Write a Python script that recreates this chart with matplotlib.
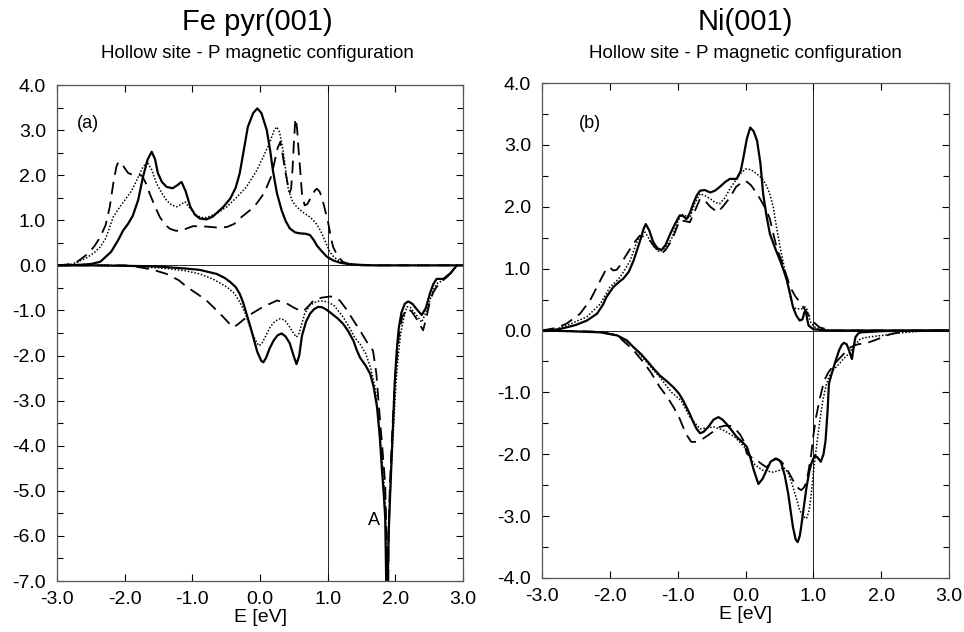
from matplotlib import pyplot as plt
from matplotlib.ticker import MultipleLocator, FormatStrFormatter

plt.rcParams['font.family'] = ['Liberation Sans', 'DejaVu Sans']
plt.rcParams['axes.unicode_minus'] = False

# ---- Fe pyr(001), panel (a) ----
# majority (upper) curves
fe_solid_up_x = [-3.0, -2.7, -2.5, -2.36, -2.2, -2.1, -2.02, -1.95, -1.88, -1.80, -1.73, -1.66, -1.60,
                 -1.55, -1.51, -1.45, -1.38, -1.29, -1.22, -1.16, -1.10, -1.03, -0.96, -0.89, -0.79,
                 -0.70, -0.64, -0.54, -0.44, -0.36, -0.30, -0.24, -0.18, -0.10, -0.04, 0.02, 0.10,
                 0.15, 0.19, 0.25, 0.32, 0.38, 0.44, 0.52, 0.59, 0.68, 0.74, 0.80, 0.84, 0.92, 0.99,
                 1.08, 1.18, 1.3, 1.5, 1.7, 2.9]
fe_solid_up_y = [0.0, 0.01, 0.03, 0.08, 0.3, 0.55, 0.78, 0.92, 1.1, 1.45, 1.96, 2.35, 2.52,
                 2.35, 2.05, 1.85, 1.74, 1.71, 1.78, 1.85, 1.65, 1.30, 1.12, 1.04, 1.02,
                 1.08, 1.16, 1.30, 1.48, 1.72, 2.04, 2.55, 3.07, 3.38, 3.48, 3.38, 3.0,
                 2.55, 2.11, 1.6, 1.22, 0.98, 0.82, 0.73, 0.71, 0.70, 0.67, 0.55, 0.44, 0.30, 0.19,
                 0.11, 0.06, 0.03, 0.01, 0.0, 0.0]

fe_dot_up_x = [-3.0, -2.8, -2.7, -2.55, -2.45, -2.36, -2.28, -2.17, -2.08, -2.0, -1.90, -1.82, -1.74,
               -1.67, -1.60, -1.53, -1.45, -1.38, -1.30, -1.23, -1.16, -1.11, -1.04, -0.94, -0.86,
               -0.79, -0.64, -0.49, -0.35, -0.20, -0.05, 0.05, 0.15, 0.21, 0.25, 0.29, 0.34, 0.38,
               0.42, 0.48, 0.54, 0.64, 0.74, 0.82, 0.89, 0.96, 1.03, 1.10, 1.18, 1.3, 1.44, 1.7, 2.9]
fe_dot_up_y = [0.0, 0.02, 0.07, 0.18, 0.28, 0.41, 0.6, 1.07, 1.28, 1.44, 1.65, 1.89, 2.15,
               2.30, 2.12, 1.82, 1.6, 1.44, 1.33, 1.30, 1.36, 1.41, 1.28, 1.11, 1.06,
               1.06, 1.15, 1.30, 1.50, 1.74, 2.1, 2.41, 2.75, 3.0, 3.07, 2.95, 2.56, 2.1,
               1.67, 1.42, 1.30, 1.17, 1.07, 0.95, 0.78, 0.55, 0.30, 0.17, 0.10, 0.04, 0.01, 0.0, 0.0]

fe_dash_up_x = [-3.0, -2.85, -2.71, -2.55, -2.45, -2.36, -2.28, -2.22, -2.16, -2.12, -2.09, -2.02,
                -1.95, -1.90, -1.80, -1.74, -1.68, -1.63, -1.55, -1.48, -1.40, -1.33, -1.25, -1.18,
                -1.08, -0.99, -0.79, -0.64, -0.49, -0.38, -0.30, -0.15, -0.05, 0.05, 0.10, 0.16,
                0.20, 0.26, 0.30, 0.33, 0.37, 0.41, 0.44, 0.46, 0.48, 0.50, 0.52, 0.53, 0.55, 0.57,
                0.60, 0.62, 0.66, 0.70, 0.76, 0.81, 0.84, 0.88, 0.91, 0.95, 1.01, 1.05, 1.08, 1.15,
                1.23, 1.35, 1.5, 2.9]
fe_dash_up_y = [0.0, 0.02, 0.07, 0.25, 0.42, 0.63, 0.9, 1.30, 1.9, 2.2, 2.30, 2.2,
                2.05, 2.02, 2.02, 1.98, 1.80, 1.59, 1.30, 1.07, 0.9, 0.81, 0.77, 0.76,
                0.82, 0.87, 0.86, 0.84, 0.85, 0.92, 1.04, 1.22, 1.37, 1.58, 1.74, 1.95,
                2.19, 2.6, 2.74, 2.5, 2.11, 1.8, 1.62, 1.7, 2.11, 2.7, 3.2, 3.26, 3.0, 2.56,
                2.0, 1.59, 1.33, 1.36, 1.52, 1.66, 1.70, 1.64, 1.52, 1.3, 0.93, 0.6, 0.41, 0.2,
                0.07, 0.02, 0.0, 0.0]

# minority (lower) curves
fe_solid_dn_x = [-3.0, -2.5, -2.0, -1.6, -1.38, -1.1, -0.89, -0.64, -0.52, -0.44, -0.36, -0.30, -0.25,
                 -0.20, -0.15, -0.10, -0.04, 0.02, 0.05, 0.09, 0.14, 0.20, 0.26, 0.32, 0.38, 0.44,
                 0.50, 0.54, 0.58, 0.62, 0.68, 0.74, 0.80, 0.86, 0.92, 0.98, 1.05, 1.15, 1.23, 1.30,
                 1.38, 1.43, 1.48, 1.56, 1.63, 1.68, 1.73, 1.77, 1.80, 1.83, 1.85, 1.86, 1.87, 1.88,
                 1.90, 1.92, 1.94, 1.97, 1.99, 2.02, 2.05, 2.09, 2.14, 2.19, 2.25, 2.32, 2.39, 2.45,
                 2.51, 2.56, 2.61, 2.66, 2.71, 2.76, 2.81, 2.86, 2.91, 3.0]
fe_solid_dn_y = [0.0, 0.0, -0.01, -0.02, -0.04, -0.07, -0.10, -0.19, -0.28, -0.37, -0.48, -0.63, -0.82,
                 -1.07, -1.32, -1.59, -1.92, -2.12, -2.15, -2.05, -1.85, -1.67, -1.55, -1.51, -1.58, -1.73,
                 -2.02, -2.19, -2.0, -1.56, -1.25, -1.07, -0.97, -0.92, -0.93, -0.98, -1.06, -1.18, -1.30, -1.45,
                 -1.67, -1.88, -2.05, -2.22, -2.41, -2.7, -3.15, -3.8, -4.48, -5.1, -5.59, -6.5, -7.5, -7.5,
                 -6.0, -5.2, -4.48, -3.4, -2.63, -1.9, -1.4, -1.05, -0.85, -0.80, -0.85, -0.98, -1.10, -0.95,
                 -0.63, -0.42, -0.30, -0.30, -0.30, -0.24, -0.18, -0.09, 0.0, 0.0]

fe_dot_dn_x = [-3.0, -2.0, -1.79, -1.38, -1.1, -0.89, -0.70, -0.49, -0.38, -0.30, -0.22, -0.15, -0.08,
               -0.02, 0.02, 0.08, 0.15, 0.22, 0.30, 0.37, 0.44, 0.50, 0.54, 0.58, 0.62, 0.66, 0.74,
               0.84, 0.92, 1.0, 1.10, 1.23, 1.33, 1.40, 1.48, 1.56, 1.63, 1.70, 1.74, 1.78, 1.82,
               1.85, 1.87, 1.88, 1.89, 1.91, 1.94, 1.97, 2.01, 2.04, 2.08, 2.12, 2.17, 2.22, 2.30,
               2.39, 2.45, 2.51, 2.56, 2.61, 2.68, 2.76, 2.84, 2.91, 3.0]
fe_dot_dn_y = [0.0, 0.0, -0.03, -0.07, -0.12, -0.19, -0.30, -0.48, -0.62, -0.81, -1.05, -1.37, -1.62,
               -1.78, -1.75, -1.58, -1.37, -1.24, -1.18, -1.22, -1.37, -1.52, -1.59, -1.50, -1.28, -1.07, -0.88,
               -0.80, -0.79, -0.81, -0.90, -1.15, -1.40, -1.60, -1.75, -1.95, -2.25, -2.7, -3.2, -3.9, -4.6,
               -5.2, -6.5, -7.5, -7.5, -5.6, -4.5, -3.7, -2.6, -2.04, -1.5, -1.2, -0.92, -0.93, -1.08,
               -1.26, -1.05, -0.78, -0.55, -0.41, -0.35, -0.27, -0.14, 0.0, 0.0]

fe_dash_dn_x = [-3.0, -2.0, -1.79, -1.6, -1.38, -1.2, -1.08, -0.94, -0.79, -0.66, -0.54, -0.46, -0.39,
                -0.32, -0.20, -0.10, 0.0, 0.12, 0.25, 0.38, 0.49, 0.57, 0.64, 0.72, 0.79, 0.90, 1.03,
                1.10, 1.18, 1.28, 1.38, 1.48, 1.58, 1.67, 1.72, 1.75, 1.80, 1.85, 1.87, 1.885, 1.895,
                1.90, 1.92, 1.96, 2.0, 2.05, 2.10, 2.17, 2.24, 2.32, 2.41, 2.46, 2.51, 2.56, 2.61,
                2.68, 2.76, 2.84, 2.91, 3.0]
fe_dash_dn_y = [0.0, 0.0, -0.04, -0.09, -0.19, -0.33, -0.48, -0.62, -0.78, -0.97, -1.15, -1.28, -1.37,
                -1.30, -1.15, -1.05, -0.96, -0.87, -0.78, -0.83, -0.93, -0.99, -1.02, -0.90, -0.78, -0.72, -0.69,
                -0.70, -0.78, -0.98, -1.22, -1.45, -1.70, -1.89, -2.4, -3.0, -3.9, -4.85, -6.0, -7.5, -7.5,
                -6.0, -4.85, -3.5, -2.4, -1.6, -1.15, -0.96, -1.02, -1.2, -1.44, -1.15, -0.80, -0.60, -0.48,
                -0.36, -0.26, -0.14, 0.0, 0.0]

# ---- Ni(001), panel (b) ----
ni_solid_up_x = [-3.0, -2.8, -2.64, -2.5, -2.34, -2.19, -2.10, -2.05, -1.95, -1.87, -1.80, -1.72, -1.65,
                 -1.56, -1.50, -1.47, -1.42, -1.36, -1.30, -1.24, -1.18, -1.11, -1.04, -0.97, -0.92,
                 -0.87, -0.82, -0.77, -0.72, -0.67, -0.60, -0.52, -0.45, -0.38, -0.30, -0.23, -0.13,
                 -0.07, -0.03, 0.02, 0.07, 0.12, 0.17, 0.22, 0.26, 0.31, 0.36, 0.44, 0.51, 0.56, 0.61,
                 0.66, 0.70, 0.75, 0.80, 0.84, 0.87, 0.89, 0.91, 0.93, 1.0, 1.2, 3.0]
ni_solid_up_y = [0.0, 0.01, 0.05, 0.09, 0.16, 0.27, 0.42, 0.54, 0.70, 0.78, 0.84, 0.95, 1.13,
                 1.43, 1.65, 1.72, 1.62, 1.43, 1.33, 1.30, 1.38, 1.56, 1.72, 1.86, 1.85,
                 1.80, 1.90, 2.05, 2.18, 2.26, 2.27, 2.23, 2.26, 2.32, 2.40, 2.45, 2.45,
                 2.58, 2.80, 3.10, 3.28, 3.22, 3.07, 2.70, 2.21, 1.85, 1.56, 1.32, 1.13, 0.98, 0.81,
                 0.58, 0.38, 0.24, 0.16, 0.18, 0.30, 0.32, 0.18, 0.08, 0.02, 0.0, 0.0]

ni_dot_up_x = [-3.0, -2.8, -2.64, -2.34, -2.14, -2.05, -2.0, -1.92, -1.85, -1.78, -1.70, -1.62, -1.56,
               -1.48, -1.42, -1.36, -1.27, -1.20, -1.09, -1.02, -0.95, -0.88, -0.82, -0.75, -0.67,
               -0.60, -0.52, -0.45, -0.38, -0.30, -0.23, -0.15, -0.08, 0.0, 0.08, 0.17, 0.25, 0.31,
               0.36, 0.41, 0.46, 0.51, 0.56, 0.61, 0.66, 0.70, 0.75, 0.83, 0.88, 0.90, 0.94, 0.97,
               1.03, 1.09, 1.3, 3.0]
ni_dot_up_y = [0.0, 0.02, 0.08, 0.22, 0.43, 0.60, 0.70, 0.78, 0.86, 0.98, 1.13, 1.38, 1.53,
               1.59, 1.48, 1.37, 1.27, 1.32, 1.48, 1.70, 1.88, 1.85, 1.82, 2.05, 2.21,
               2.18, 2.13, 2.07, 2.05, 2.15, 2.29, 2.42, 2.53, 2.61, 2.60, 2.53, 2.45, 2.34,
               2.20, 1.99, 1.65, 1.35, 1.08, 0.81, 0.55, 0.38, 0.35, 0.35, 0.38, 0.36, 0.20, 0.11,
               0.05, 0.03, 0.0, 0.0]

ni_dash_up_x = [-3.0, -2.8, -2.64, -2.44, -2.29, -2.14, -2.05, -2.0, -1.95, -1.90, -1.85, -1.78, -1.70,
                -1.62, -1.56, -1.46, -1.40, -1.34, -1.24, -1.18, -1.09, -0.97, -0.90, -0.82, -0.74,
                -0.67, -0.60, -0.52, -0.41, -0.32, -0.23, -0.14, -0.05, 0.0, 0.08, 0.17, 0.24, 0.31,
                0.36, 0.41, 0.47, 0.53, 0.60, 0.66, 0.73, 0.80, 0.88, 0.95, 1.02, 1.09, 1.2, 1.3, 3.0]
ni_dash_up_y = [0.0, 0.04, 0.11, 0.27, 0.49, 0.81, 1.00, 1.02, 0.97, 0.98, 1.05, 1.18, 1.32,
                1.45, 1.53, 1.51, 1.44, 1.35, 1.24, 1.30, 1.45, 1.78, 1.77, 1.75, 1.95,
                2.13, 2.10, 2.0, 1.91, 2.02, 2.15, 2.32, 2.40, 2.42, 2.35, 2.21, 2.08, 1.94,
                1.80, 1.56, 1.30, 1.13, 0.90, 0.70, 0.56, 0.46, 0.33, 0.22, 0.12, 0.05, 0.02, 0.0, 0.0]

ni_solid_dn_x = [-3.0, -2.64, -2.14, -1.89, -1.75, -1.65, -1.55, -1.46, -1.36, -1.26, -1.16, -1.06, -0.98,
                 -0.92, -0.87, -0.82, -0.77, -0.72, -0.67, -0.62, -0.55, -0.47, -0.40, -0.34, -0.28,
                 -0.20, -0.13, -0.05, 0.02, 0.07, 0.12, 0.19, 0.25, 0.31, 0.37, 0.44, 0.50, 0.53, 0.58,
                 0.63, 0.67, 0.70, 0.74, 0.77, 0.80, 0.82, 0.86, 0.90, 0.94, 0.97, 1.02, 1.06, 1.11,
                 1.15, 1.18, 1.21, 1.23, 1.27, 1.30, 1.34, 1.38, 1.42, 1.45, 1.49, 1.52, 1.55, 1.57,
                 1.59, 1.62, 1.66, 1.70, 2.02, 3.0]
ni_solid_dn_y = [0.0, -0.01, -0.03, -0.08, -0.16, -0.27, -0.37, -0.48, -0.61, -0.73, -0.82, -0.92, -1.02,
                 -1.13, -1.24, -1.35, -1.48, -1.59, -1.66, -1.64, -1.56, -1.44, -1.40, -1.44, -1.51,
                 -1.62, -1.72, -1.80, -1.88, -2.05, -2.25, -2.48, -2.40, -2.26, -2.12, -2.07, -2.10, -2.15, -2.35,
                 -2.64, -2.95, -3.18, -3.38, -3.42, -3.32, -3.18, -2.85, -2.53, -2.28, -2.15, -2.02, -2.05, -2.12,
                 -2.0, -1.78, -1.3, -0.86, -0.70, -0.59, -0.45, -0.32, -0.23, -0.20, -0.22, -0.30, -0.40, -0.46,
                 -0.30, -0.11, -0.05, -0.03, -0.01, 0.0]

ni_dot_dn_x = [-3.0, -2.14, -1.89, -1.65, -1.46, -1.26, -1.09, -0.95, -0.82, -0.67, -0.55, -0.46, -0.31,
               -0.16, -0.02, 0.05, 0.12, 0.20, 0.26, 0.41, 0.50, 0.56, 0.63, 0.70, 0.76, 0.80, 0.85,
               0.90, 0.94, 0.97, 1.0, 1.04, 1.09, 1.14, 1.19, 1.23, 1.30, 1.38, 1.45, 1.52, 1.57,
               1.62, 1.70, 1.85, 2.02, 2.27, 2.6, 3.0]
ni_dot_dn_y = [0.0, -0.02, -0.08, -0.27, -0.51, -0.76, -1.00, -1.13, -1.40, -1.59, -1.57, -1.56, -1.62,
               -1.72, -1.88, -2.0, -2.15, -2.22, -2.26, -2.29, -2.26, -2.21, -2.30, -2.53, -2.75, -2.91, -3.0,
               -3.04, -2.90, -2.64, -2.3, -1.94, -1.50, -1.13, -0.88, -0.75, -0.63, -0.54, -0.45, -0.38, -0.30,
               -0.22, -0.13, -0.10, -0.08, -0.04, -0.01, 0.0]

ni_dash_dn_x = [-3.0, -2.14, -1.89, -1.65, -1.50, -1.40, -1.26, -1.15, -1.06, -0.98, -0.92, -0.86, -0.80,
                -0.72, -0.67, -0.56, -0.46, -0.38, -0.31, -0.23, -0.16, -0.08, -0.03, 0.02, 0.10, 0.17,
                0.24, 0.31, 0.38, 0.46, 0.53, 0.61, 0.67, 0.73, 0.78, 0.82, 0.86, 0.90, 0.94, 0.97,
                1.0, 1.04, 1.10, 1.16, 1.22, 1.28, 1.36, 1.43, 1.50, 1.55, 1.61, 1.67, 1.75, 1.82,
                1.90, 1.97, 2.08, 2.17, 2.4, 3.0]
ni_dash_dn_y = [0.0, -0.02, -0.08, -0.32, -0.52, -0.67, -0.92, -1.08, -1.24, -1.40, -1.56, -1.70, -1.80,
                -1.80, -1.78, -1.70, -1.62, -1.56, -1.54, -1.54, -1.58, -1.68, -1.78, -1.99, -2.06, -2.10,
                -2.16, -2.21, -2.12, -2.07, -2.12, -2.24, -2.36, -2.48, -2.55, -2.58, -2.54, -2.45, -2.2, -1.99,
                -1.7, -1.40, -1.08, -0.81, -0.68, -0.59, -0.48, -0.40, -0.31, -0.27, -0.24, -0.22, -0.21, -0.19,
                -0.16, -0.13, -0.08, -0.05, -0.01, 0.0]

x_ticks = [-3.0, -2.0, -1.0, 0.0, 1.0, 2.0, 3.0]

SOLID = dict(color='black', lw=1.6, ls='-')
DOTTED = dict(color='black', lw=1.1, ls=(0, (1, 1.2)))
DASHED = dict(color='black', lw=1.3, ls=(0, (7, 4)))


def draw_panel(ax, curves, ymin, ymax, label, label_pos):
    for xs, ys, style in curves:
        ax.plot(xs, ys, **style)
    ax.axhline(0.0, color='black', lw=0.6)
    ax.axvline(1.0, color='black', lw=0.6)
    ax.set_xlim(-3.0, 3.0)
    ax.set_ylim(ymin, ymax)
    ax.set_xticks(x_ticks)
    ax.yaxis.set_major_locator(MultipleLocator(1.0))
    ax.yaxis.set_minor_locator(MultipleLocator(0.5))
    ax.xaxis.set_major_formatter(FormatStrFormatter('%.1f'))
    ax.yaxis.set_major_formatter(FormatStrFormatter('%.1f'))
    ax.tick_params(which='both', direction='in', top=True, right=True, labelsize=14)
    ax.tick_params(axis='y', which='both', pad=8)
    ax.tick_params(axis='x', which='both', pad=7)
    ax.tick_params(which='major', length=5, width=0.8)
    ax.tick_params(which='minor', length=4, width=0.8)
    for s in ax.spines.values():
        s.set_linewidth(0.9)
        s.set_color('#555555')
    ax.set_xlabel('E [eV]', fontsize=14, labelpad=1)
    ax.text(label_pos[0], label_pos[1], label, fontsize=13, ha='left', va='center')


fig = plt.figure(figsize=(9.64, 6.32), dpi=100)

ax_fe = fig.add_axes([57 / 964, 1 - 581 / 632, 406 / 964, 496 / 632])
draw_panel(ax_fe, [
    (fe_solid_up_x, fe_solid_up_y, SOLID), (fe_dot_up_x, fe_dot_up_y, DOTTED), (fe_dash_up_x, fe_dash_up_y, DASHED),
    (fe_solid_dn_x, fe_solid_dn_y, SOLID), (fe_dot_dn_x, fe_dot_dn_y, DOTTED), (fe_dash_dn_x, fe_dash_dn_y, DASHED),
], -7.0, 4.0, '(a)', (-2.7, 3.15))
ax_fe.text(1.6, -5.65, 'A', fontsize=13, ha='left', va='center')

ax_ni = fig.add_axes([542 / 964, 1 - 578 / 632, 407 / 964, 495 / 632])
draw_panel(ax_ni, [
    (ni_solid_up_x, ni_solid_up_y, SOLID), (ni_dot_up_x, ni_dot_up_y, DOTTED), (ni_dash_up_x, ni_dash_up_y, DASHED),
    (ni_solid_dn_x, ni_solid_dn_y, SOLID), (ni_dot_dn_x, ni_dot_dn_y, DOTTED), (ni_dash_dn_x, ni_dash_dn_y, DASHED),
], -4.0, 4.0, '(b)', (-2.45, 3.35))

fig.text(257 / 964, 1 - 22 / 632, 'Fe pyr(001)', fontsize=21, ha='center', va='center')
fig.text(257 / 964, 1 - 54 / 632, 'Hollow site - P magnetic configuration', fontsize=13.5, ha='center', va='center')
fig.text(745 / 964, 1 - 22 / 632, 'Ni(001)', fontsize=21, ha='center', va='center')
fig.text(745 / 964, 1 - 54 / 632, 'Hollow site - P magnetic configuration', fontsize=13.5, ha='center', va='center')

fig.savefig('out.png', dpi=100)
